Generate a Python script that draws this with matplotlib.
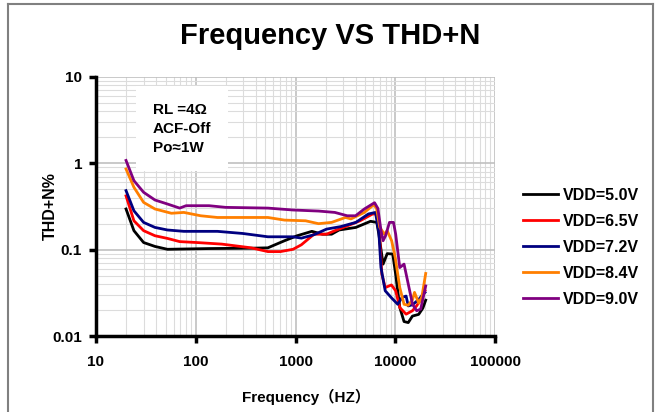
import matplotlib
matplotlib.use('Agg')
import matplotlib.pyplot as plt
from matplotlib.lines import Line2D
from matplotlib.ticker import LogLocator, FixedLocator, NullFormatter

plt.rcParams['font.family'] = ['Liberation Sans', 'Noto Sans CJK SC', 'DejaVu Sans']
plt.rcParams['font.weight'] = 'bold'

# Dados (Hz, THD+N %)
f_50 = [20, 24, 30, 39, 52, 136, 359, 528, 777, 1040, 1459, 1858, 2300, 2735, 4030, 5650,
        6530, 6850, 7550, 8310, 9440, 10090, 11120, 12250, 13500, 14860, 17170, 18900, 20200]
thd_50 = [0.296, 0.166, 0.121, 0.109, 0.101, 0.103, 0.104, 0.105, 0.127, 0.145, 0.163, 0.151,
          0.151, 0.169, 0.181, 0.213, 0.207, 0.15, 0.068, 0.090, 0.089, 0.052, 0.0213, 0.0147,
          0.0143, 0.017, 0.0178, 0.021, 0.026]

f_65 = [20, 24, 30, 39, 52, 69, 102, 182, 359, 529, 707, 945, 1146, 1532, 2048, 2484, 3320,
        4440, 5930, 6530, 6850, 7340, 7930, 9160, 10090, 11120, 12850, 14860, 16360, 18030, 19870]
thd_65 = [0.42, 0.216, 0.166, 0.145, 0.135, 0.124, 0.121, 0.116, 0.105, 0.095, 0.095, 0.101,
          0.114, 0.151, 0.151, 0.166, 0.189, 0.216, 0.259, 0.259, 0.2, 0.052, 0.0364, 0.039,
          0.0334, 0.0213, 0.0179, 0.0196, 0.0223, 0.0264, 0.0334]

f_72 = [20, 24, 30, 39, 52, 76, 165, 296, 529, 945, 1146, 1532, 2048, 2840, 4030, 5380, 6330,
        6850, 7190, 7930, 9160, 10590, 11700, 12850, 13500, 14860, 17170, 18900, 19870]
thd_72 = [0.483, 0.282, 0.207, 0.181, 0.169, 0.163, 0.163, 0.154, 0.141, 0.141, 0.136, 0.149,
          0.173, 0.185, 0.207, 0.259, 0.27, 0.16, 0.062, 0.0334, 0.0277, 0.0233, 0.028, 0.029,
          0.0223, 0.023, 0.0264, 0.0303, 0.032]

f_84 = [20, 24, 30, 39, 57, 76, 112, 165, 529, 777, 1262, 1700, 2300, 3170, 3600, 4900, 6100,
        6500, 7000, 7800, 8300, 9200, 10000, 11100, 12250, 13500, 14900, 15600, 17200, 18500, 20200]
thd_84 = [0.86, 0.528, 0.353, 0.296, 0.264, 0.27, 0.247, 0.236, 0.236, 0.22, 0.216, 0.2, 0.207,
          0.236, 0.227, 0.27, 0.332, 0.3, 0.181, 0.151, 0.166, 0.127, 0.081, 0.0364, 0.0233,
          0.0227, 0.0264, 0.032, 0.024, 0.0285, 0.053]

f_90 = [20, 24, 30, 39, 52, 69, 80, 136, 200, 529, 945, 1700, 2480, 3300, 4000, 4900, 6200,
        6700, 7200, 7550, 8000, 8750, 9600, 10100, 11100, 12250, 13500, 14900, 16400, 18000, 20200]
thd_90 = [1.08, 0.63, 0.462, 0.376, 0.338, 0.303, 0.323, 0.323, 0.309, 0.303, 0.288, 0.28, 0.27,
          0.247, 0.247, 0.296, 0.35, 0.3, 0.166, 0.127, 0.145, 0.207, 0.207, 0.151, 0.062,
          0.068, 0.04, 0.0233, 0.0196, 0.0205, 0.038]

series = [
    (f_50, thd_50, 'VDD=5.0V', '#000000'),
    (f_65, thd_65, 'VDD=6.5V', '#ff0000'),
    (f_72, thd_72, 'VDD=7.2V', '#000080'),
    (f_84, thd_84, 'VDD=8.4V', '#ff7f00'),
    (f_90, thd_90, 'VDD=9.0V', '#800080'),
]

fig = plt.figure(figsize=(6.56, 4.12), dpi=100)
ax = fig.add_axes([96 / 656, 1 - 336 / 412, 399 / 656, 259 / 412])

# Moldura cinza em volta da figura
for xs, ys in [([8, 8], [0, 3.5]), ([8, 653], [3.5, 3.5]), ([653, 653], [3.5, 0])]:
    fig.add_artist(Line2D([x / 656 for x in xs], [1 - y / 412 if y else 0 for y in ys],
                          color='#808080', lw=1.5))

for f, thd, nome, cor in series:
    ax.plot(f, thd, color=cor, lw=2, label=nome)

ax.set_xscale('log')
ax.set_yscale('log')
ax.set_xlim(10, 100000)
ax.set_ylim(0.01, 10)

ax.xaxis.set_major_locator(FixedLocator([10, 100, 1000, 10000, 100000]))
ax.yaxis.set_major_locator(FixedLocator([0.01, 0.1, 1, 10]))
ax.xaxis.set_minor_locator(LogLocator(base=10, subs=range(2, 10)))
ax.yaxis.set_minor_locator(LogLocator(base=10, subs=range(2, 10)))
ax.xaxis.set_minor_formatter(NullFormatter())
ax.yaxis.set_minor_formatter(NullFormatter())
ax.set_xticklabels(['10', '100', '1000', '10000', '100000'])
ax.set_yticklabels(['0.01', '0.1', '1', '10'])

ax.grid(True, which='major', color='#c0c0c0', lw=1.2)
ax.grid(True, which='minor', color='#dcdcdc', lw=0.8)
ax.set_axisbelow(True)

ax.spines['top'].set_visible(False)
ax.spines['right'].set_visible(False)
ax.spines['left'].set_linewidth(2.5)
ax.spines['bottom'].set_linewidth(2.5)
ax.tick_params(which='major', direction='out', length=5, width=2.5, labelsize=11, pad=5)
ax.tick_params(which='minor', length=0)
ax.tick_params(axis='x', pad=9)
for lbl in ax.get_xticklabels() + ax.get_yticklabels():
    lbl.set_fontweight('bold')

fig.text(0.503, 0.912, 'Frequency VS THD+N', ha='center', va='center',
         fontsize=21, fontweight='bold')
ax.set_ylabel('THD+N%', fontsize=11.5, fontweight='bold', labelpad=-4)
ax.set_xlabel('Frequency（HZ）', fontsize=11, fontweight='bold', labelpad=14)
ax.xaxis.label.set_position((0.526, 0))

ax.text(0.143, 0.7, 'RL =4Ω\nACF-Off\nPo≈1W', transform=ax.transAxes, fontsize=11,
        fontweight='bold', ha='left', va='bottom', linespacing=1.45,
        bbox=dict(facecolor='white', edgecolor='none', pad=12))

ax.legend(loc='upper left', bbox_to_anchor=(1.055, 0.598), frameon=False, fontsize=11.5,
          handlelength=2.2, handletextpad=0.25, labelspacing=0.69, borderaxespad=0)

fig.savefig('out.png', dpi=100)
